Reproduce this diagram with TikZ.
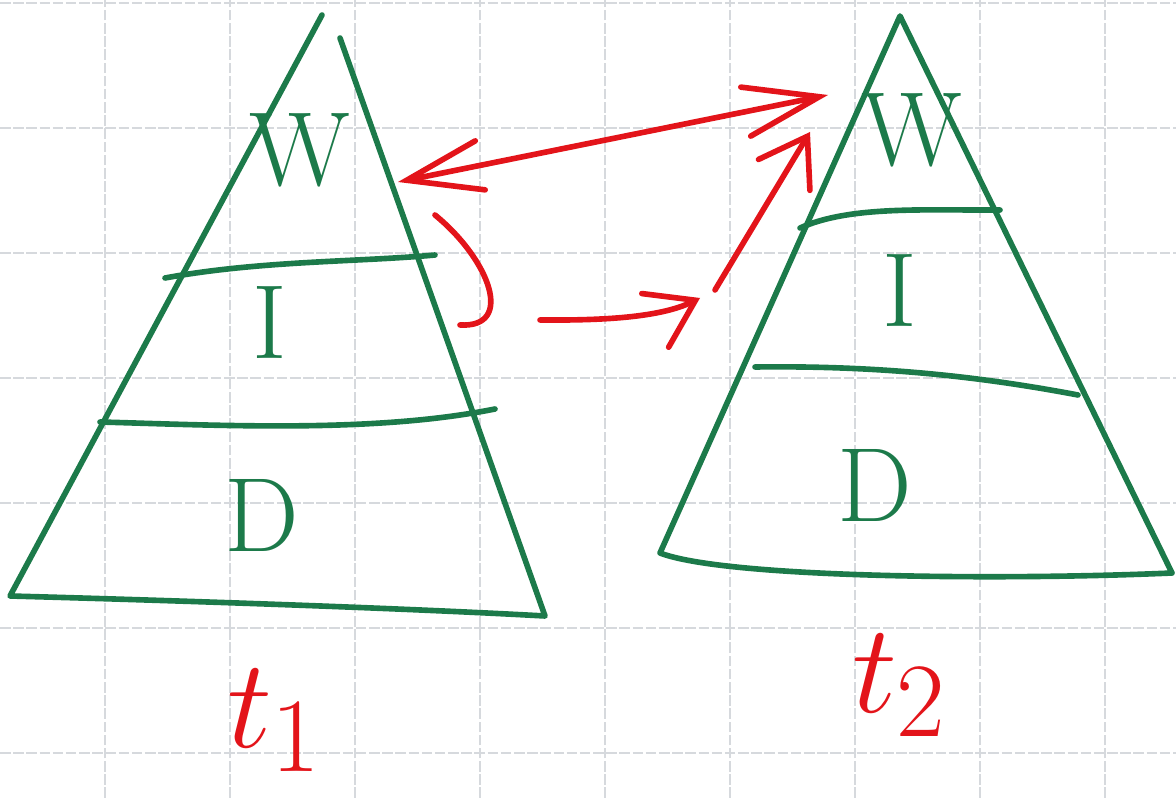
\documentclass[tikz,border=0pt]{standalone}
\usepackage{tikz}
\usetikzlibrary{arrows.meta}
\usepackage{xcolor}
\definecolor{pengreen}{HTML}{1C7A4A}
\definecolor{penred}{HTML}{E3141A}
\definecolor{paperline}{HTML}{D6D9DD}

\begin{document}
\begin{tikzpicture}[
    pen/.style={draw=pengreen, line width=3.2pt, line cap=round, line join=round},
    redpen/.style={draw=penred, line width=3.2pt, line cap=round, line join=round},
    gridline/.style={draw=paperline, line width=0.6pt, dash pattern=on 6pt off 1.5pt},
    layer/.style={text=pengreen, font=\fontsize{60}{60}\selectfont, inner sep=0pt},
    timelabel/.style={text=penred, font=\Huge, scale=2.9, inner sep=0pt},
    bighead/.style={-{Straight Barb[length=9mm, width=12mm, line cap=round]}},
]

\useasboundingbox (0,0) rectangle (23.52,15.96);

% Paper grid
\foreach \gx in {2.1,4.6,...,22.2}
    \draw[gridline] (\gx,0) -- (\gx,15.96);
\foreach \gy in {0.9,3.4,...,15.96}
    \draw[gridline] (0,\gy) -- (23.52,\gy);

% Pyramid at t1
\coordinate (apexA) at (6.44,15.66);
\coordinate (edgeA) at (6.80,15.20);
\coordinate (blA) at (0.20,4.04);
\coordinate (brA) at (10.90,3.64);
\draw[pen] (apexA) -- (blA) .. controls (3.5,3.95) and (8,3.80) .. (brA) -- (edgeA);
\draw[pen] (3.30,10.40) .. controls (5.2,10.75) and (7.2,10.72) .. (8.70,10.86);
\draw[pen] (2.00,7.52) .. controls (4.5,7.45) and (7.5,7.30) .. (9.90,7.78);

\node[layer] (wA) at (6.00,12.96) {W};
\node[layer] (iA) at (5.40,9.52) {I};
\node[layer] (dA) at (5.24,5.66) {D};
\node[timelabel] (tA) at (5.50,1.55) {$t_1$};

% Pyramid at t2
\coordinate (apexB) at (18.00,15.64);
\coordinate (blB) at (13.20,4.90);
\coordinate (brB) at (23.44,4.50);
\draw[pen] (brB) -- (apexB) -- (blB) .. controls (14.5,4.40) and (20,4.35) .. (brB);
\draw[pen] (16.00,11.40) .. controls (17.0,11.85) and (18.5,11.75) .. (20.00,11.76);
\draw[pen] (15.10,8.62) .. controls (17.5,8.65) and (19.5,8.45) .. (21.56,8.06);

\node[layer] (wB) at (18.24,13.36) {W};
\node[layer] (iB) at (18.00,10.16) {I};
\node[layer] (dB) at (17.50,6.26) {D};
\node[timelabel] (tB) at (18.00,2.25) {$t_2$};

% Transitions between the two pyramids
\coordinate (wAout) at (7.96,12.32);
\coordinate (wBin) at (16.56,14.06);
\coordinate (iAtop) at (8.70,11.66);
\coordinate (iAout) at (9.20,9.46);
\coordinate (gapA) at (10.80,9.56);
\coordinate (gapB) at (14.00,10.00);
\coordinate (riseB) at (14.30,10.16);
\coordinate (wBlow) at (16.20,13.32);

\draw[redpen, {Straight Barb[length=15mm, width=10mm, line cap=round]}-{Straight Barb[length=15mm, width=10mm, line cap=round]}] (wAout) -- (wBin);
\draw[redpen] (iAtop) .. controls (9.8,10.76) and (10.3,9.40) .. (iAout);
\draw[redpen, bighead] (gapA) .. controls (12,9.55) and (13.2,9.60) .. (gapB);
\draw[redpen, bighead] (riseB) -- (wBlow);

\end{tikzpicture}
\end{document}
